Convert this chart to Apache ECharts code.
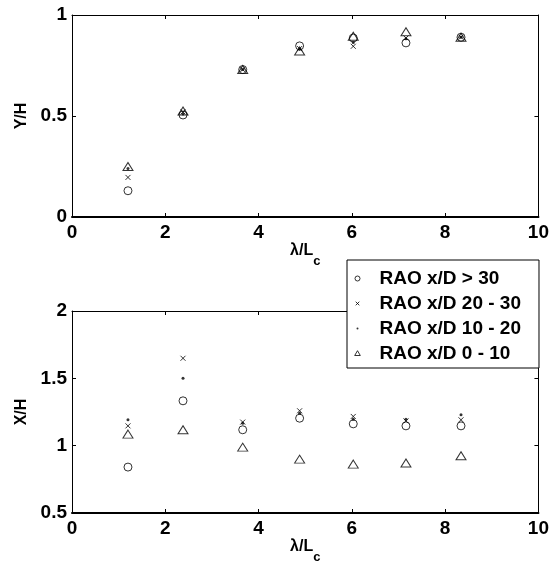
<!DOCTYPE html>
<html>
<head>
<meta charset="utf-8">
<script src="https://cdn.jsdelivr.net/npm/echarts@6/dist/echarts.min.js"></script>
<style>
  html, body { margin: 0; padding: 0; background: #fff; }
  #chart { width: 552px; height: 567px; }
</style>
</head>
<body>
<div id="chart"></div>
<script>
  // wavelength ratio (shared by both panels)
  var lambdaRatio = [1.2, 2.38, 3.66, 4.88, 6.03, 7.16, 8.34];

  // top panel: Y/H
  var yGt30 = [0.13, 0.505, 0.73, 0.847, 0.886, 0.862, 0.89];
  var y20to30 = [0.196, 0.52, 0.73, 0.834, 0.845, 0.886, 0.89];
  var y10to20 = [0.24, 0.51, 0.73, 0.83, 0.864, 0.883, 0.89];
  var y0to10 = [0.25, 0.525, 0.73, 0.822, 0.895, 0.917, 0.89];

  // bottom panel: X/H
  var xGt30 = [0.841, 1.333, 1.118, 1.204, 1.162, 1.147, 1.147];
  var x20to30 = [1.147, 1.649, 1.175, 1.259, 1.217, 1.184, 1.192];
  var x10to20 = [1.192, 1.50, 1.167, 1.241, 1.197, 1.197, 1.229];
  var x0to10 = [1.086, 1.118, 0.989, 0.90, 0.863, 0.871, 0.925];

  var names = ['RAO x/D > 30', 'RAO x/D 20 - 30', 'RAO x/D 10 - 20', 'RAO x/D 0 - 10'];

  var font = '"Liberation Sans", Arial, Helvetica, sans-serif';
  var ink = '#000';

  function pairs(ys) {
    return ys.map(function(v, i) { return [lambdaRatio[i], v]; });
  }

  // marker looks, MATLAB style
  var marks = [
    { symbol: 'circle', size: 8, itemStyle: { color: 'transparent', borderColor: ink, borderWidth: 1 } },
    { symbol: 'path://M0,0L10,10M0,10L10,0', size: 5, itemStyle: { color: 'transparent', borderColor: ink, borderWidth: 1 } },
    { symbol: 'circle', size: 3, itemStyle: { color: ink, borderWidth: 0 } },
    { symbol: 'triangle', size: [10, 8], itemStyle: { color: 'transparent', borderColor: ink, borderWidth: 1 } }
  ];
  // zero-length corner segments keep the icon box at 22x10 so the glyphs stay small
  var box = 'M0,0L0,0M22,10L22,10';
  var legendIcons = [
    'path://' + box + 'M2.5,5a2.5,2.5 0 1,0 5,0a2.5,2.5 0 1,0 -5,0',
    'path://' + box + 'M3.2,3.2L6.8,6.8M3.2,6.8L6.8,3.2',
    'path://' + box + 'M4,5a1,1 0 1,0 2,0a1,1 0 1,0 -2,0',
    'path://' + box + 'M5,2.2L7.8,7L2.2,7Z'
  ];

  function xAxes(gridIndex) {
    return [{
      gridIndex: gridIndex, type: 'value', min: 0, max: 10, interval: 2, position: 'bottom',
      name: '{a|λ/L}{b|c}', nameLocation: 'middle', nameGap: 24,
      nameTextStyle: {
        rich: {
          a: { fontFamily: font, fontWeight: 'bold', fontSize: 16, color: ink, lineHeight: 16, padding: [0, 0, 9, 0] },
          b: { fontFamily: font, fontWeight: 'bold', fontSize: 13, color: ink, lineHeight: 13, padding: [12, 0, 0, 0] }
        }
      },
      axisLine: { onZero: false, lineStyle: { color: ink, width: 2 } },
      axisTick: { inside: true, length: 4, lineStyle: { color: ink } },
      axisLabel: { color: ink, fontFamily: font, fontWeight: 'bold', fontSize: 19, margin: 6 },
      splitLine: { show: false }
    }, {
      gridIndex: gridIndex, type: 'value', min: 0, max: 10, interval: 2, position: 'top',
      axisLine: { onZero: false, lineStyle: { color: ink, width: 1 } },
      axisTick: { inside: true, length: 4, lineStyle: { color: ink } },
      axisLabel: { show: false },
      splitLine: { show: false }
    }];
  }

  function yAxes(gridIndex, min, max, title) {
    return [{
      gridIndex: gridIndex, type: 'value', min: min, max: max, interval: 0.5, position: 'left',
      name: title, nameLocation: 'middle', nameGap: 38,
      nameTextStyle: { color: ink, fontFamily: font, fontWeight: 'bold', fontSize: 16 },
      axisLine: { onZero: false, lineStyle: { color: ink, width: 1 } },
      axisTick: { inside: true, length: 4, lineStyle: { color: ink } },
      axisLabel: { color: ink, fontFamily: font, fontWeight: 'bold', fontSize: 19, margin: 5 },
      splitLine: { show: false }
    }, {
      gridIndex: gridIndex, type: 'value', min: min, max: max, interval: 0.5, position: 'right',
      axisLine: { onZero: false, lineStyle: { color: ink, width: 1 } },
      axisTick: { inside: true, length: 4, lineStyle: { color: ink } },
      axisLabel: { show: false },
      splitLine: { show: false }
    }];
  }

  var topSets = [yGt30, y20to30, y10to20, y0to10];
  var bottomSets = [xGt30, x20to30, x10to20, x0to10];
  var series = [];
  [topSets, bottomSets].forEach(function(sets, g) {
    sets.forEach(function(ys, k) {
      series.push({
        name: names[k],
        type: 'scatter',
        xAxisIndex: g * 2,
        yAxisIndex: g * 2,
        symbol: marks[k].symbol,
        symbolSize: marks[k].size,
        itemStyle: marks[k].itemStyle,
        data: pairs(ys)
      });
    });
  });

  var chart = echarts.init(document.getElementById('chart'), null, { renderer: 'canvas' });
  chart.setOption({
    animation: false,
    backgroundColor: '#fff',
    grid: [
      { left: 72, top: 15, width: 467, height: 202 },
      { left: 72, top: 311, width: 467, height: 202 }
    ],
    xAxis: xAxes(0).concat(xAxes(1)),
    yAxis: yAxes(0, 0, 1, 'Y/H').concat(yAxes(1, 0.5, 2, 'X/H')),
    legend: {
      orient: 'vertical',
      left: 347,
      top: 260,
      padding: [9, 18, 5, 5],
      itemGap: 6,
      itemWidth: 22,
      itemHeight: 10,
      backgroundColor: '#fff',
      borderColor: ink,
      borderWidth: 1,
      borderRadius: 0,
      selectedMode: false,
      textStyle: { color: ink, fontFamily: font, fontWeight: 'bold', fontSize: 19, padding: [0, 0, 0, 0] },
      data: names.map(function(n, k) {
        return { name: n, icon: legendIcons[k], itemStyle: marks[k].itemStyle };
      })
    },
    series: series
  });
</script>
</body>
</html>
